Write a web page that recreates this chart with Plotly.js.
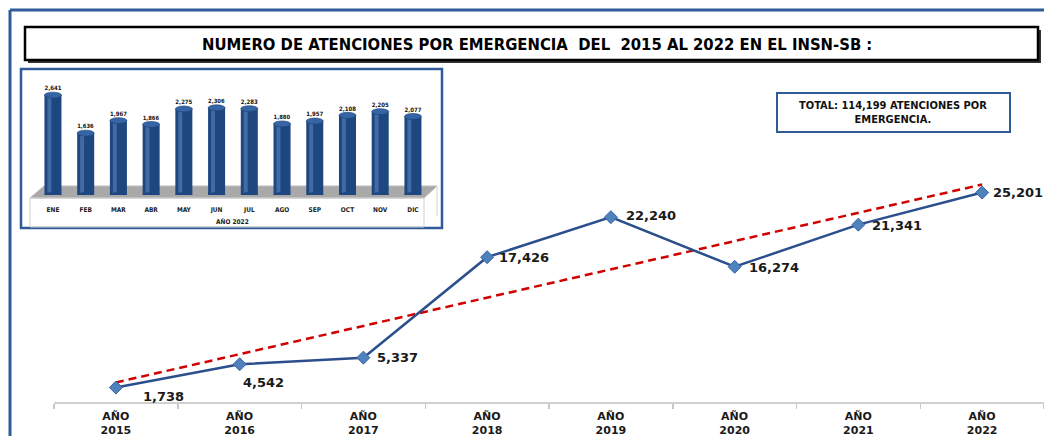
<!DOCTYPE html>
<html>
<head>
<meta charset="utf-8">
<script src="https://cdn.plot.ly/plotly-3.0.1.min.js"></script>
<style>
  html, body { margin: 0; padding: 0; background: #ffffff; }
  #chart { width: 1044px; height: 436px; }
</style>
</head>
<body>
<div id="chart"></div>
<script>
// ---------- DATA ----------
const years = ['2015', '2016', '2017', '2018', '2019', '2020', '2021', '2022'];
const attendances = [1738, 4542, 5337, 17426, 22240, 16274, 21341, 25201];
const yearTickLabels = ['AÑO<br>2015', 'AÑO<br>2016', 'AÑO<br>2017', 'AÑO<br>2018',
                        'AÑO<br>2019', 'AÑO<br>2020', 'AÑO<br>2021', 'AÑO<br>2022'];
const trendYears = ['2015', '2022'];
const trendValues = [2350, 26170];

const months = ['ENE', 'FEB', 'MAR', 'ABR', 'MAY', 'JUN', 'JUL', 'AGO', 'SEP', 'OCT', 'NOV', 'DIC'];
const monthly2022 = [2641, 1636, 1967, 1866, 2275, 2306, 2283, 1880, 1957, 2108, 2205, 2077];

const titleText = 'NUMERO DE ATENCIONES POR EMERGENCIA  DEL  2015 AL 2022 EN EL INSN-SB :';
const totalText = 'TOTAL: 114,199 ATENCIONES POR<br>EMERGENCIA.';
const insetAxisTitle = 'AÑO 2022';

// ---------- HELPERS (pixel -> paper) ----------
const W = 1044, H = 436;
const px = x => x / W;
const py = y => 1 - y / H;

const monthIdx = months.map((m, i) => i);
const fmt = v => v.toLocaleString('en-US');

const narrow = '"DejaVu Sans Condensed", "Liberation Sans Narrow", "Liberation Sans", sans-serif';
const dejavu = '"DejaVu Sans", Verdana, sans-serif';

// ---------- TRACES ----------
const trend = {
  x: trendYears, y: trendValues, xaxis: 'x', yaxis: 'y',
  type: 'scatter', mode: 'lines',
  line: { color: '#d10000', width: 2.5, dash: '8px,5px' },
  hoverinfo: 'skip'
};

const mainLine = {
  x: years, y: attendances, xaxis: 'x', yaxis: 'y',
  type: 'scatter', mode: 'lines+markers',
  line: { color: '#2b4f8c', width: 2.5 },
  marker: { symbol: 'diamond', size: 10, color: '#4f81bd', line: { color: '#3a64a0', width: 1 } },
  cliponaxis: false
};

const insetBars = {
  x: monthIdx, y: monthly2022, xaxis: 'x2', yaxis: 'y2',
  type: 'bar', width: 0.52,
  marker: { color: '#1f477f', line: { width: 0 } },
  text: monthly2022.map(fmt), textposition: 'outside',
  textfont: { family: narrow, size: 7, color: '#111111', weight: 'bold' },
  cliponaxis: false
};

const insetHighlight = {
  x: monthIdx, y: monthly2022, xaxis: 'x2', yaxis: 'y2',
  type: 'bar', width: 0.12, offset: -0.17,
  marker: { color: 'rgba(95,135,195,0.55)', line: { width: 0 } },
  hoverinfo: 'skip'
};

// ---------- SHAPES ----------
const shapes = [
  // outer frame
  { type: 'line', xref: 'paper', yref: 'paper', x0: px(10), x1: px(10), y0: py(10), y1: py(436),
    line: { color: '#2f5c99', width: 3 } },
  { type: 'line', xref: 'paper', yref: 'paper', x0: px(10), x1: px(1044), y0: py(10), y1: py(10),
    line: { color: '#2f5c99', width: 3 } },
  // title box shadow + box
  { type: 'rect', xref: 'paper', yref: 'paper', x0: px(28), x1: px(1041), y0: py(30), y1: py(63),
    fillcolor: '#333333', line: { width: 0 } },
  { type: 'rect', xref: 'paper', yref: 'paper', x0: px(25), x1: px(1038), y0: py(27), y1: py(60),
    fillcolor: '#ffffff', line: { color: '#000000', width: 2.5 } },
  // inset box
  { type: 'rect', xref: 'paper', yref: 'paper', layer: 'below', x0: px(21), x1: px(442), y0: py(69), y1: py(228),
    fillcolor: '#ffffff', line: { color: '#2f5c99', width: 2.5 } },
  // inset floor
  { type: 'path', xref: 'paper', yref: 'paper', layer: 'below',
    path: `M ${px(30)},${py(198)} L ${px(44)},${py(186)} L ${px(437)},${py(186)} L ${px(424)},${py(198)} Z`,
    fillcolor: '#a9a9a9', line: { color: '#bdbdbd', width: 1 } },
  // inset category label box
  { type: 'rect', xref: 'paper', yref: 'paper', layer: 'below', x0: px(30), x1: px(424), y0: py(198), y1: py(227),
    fillcolor: 'rgba(0,0,0,0)', line: { color: '#cfcfcf', width: 1 } },
  { type: 'line', xref: 'paper', yref: 'paper', layer: 'below', x0: px(437), x1: px(437), y0: py(186), y1: py(216),
    line: { color: '#d4d4d4', width: 1 } },
  // total box
  { type: 'rect', xref: 'paper', yref: 'paper', x0: px(777), x1: px(1010), y0: py(93), y1: py(132),
    fillcolor: '#ffffff', line: { color: '#2f5c99', width: 2 } }
];

// cylinder tops for the inset bars
monthIdx.forEach((i) => {
  shapes.push({
    type: 'circle', xref: 'x2', yref: 'y2', ysizemode: 'pixel', yanchor: monthly2022[i],
    x0: i - 0.26, x1: i + 0.26, y0: -3, y1: 3,
    fillcolor: '#3565a6', line: { color: '#1c3f70', width: 0.6 }
  });
  shapes.push({
    type: 'circle', xref: 'x2', yref: 'y2', ysizemode: 'pixel', yanchor: 0,
    x0: i - 0.26, x1: i + 0.26, y0: -3, y1: 3,
    fillcolor: '#1f477f', line: { width: 0 }
  });
});

// ---------- ANNOTATIONS ----------
const labelShift = [
  { dx: 25, dy: -9 }, { dx: 1, dy: -18 }, { dx: 12, dy: 0 }, { dx: 10, dy: 0 },
  { dx: 13, dy: 2 }, { dx: 12, dy: -1 }, { dx: 12, dy: -1 }, { dx: 9, dy: 0 }
];

const annotations = [
  { xref: 'paper', yref: 'paper', x: px(537), y: py(44), xanchor: 'center', yanchor: 'middle',
    text: titleText, showarrow: false,
    font: { family: narrow, size: 16.5, color: '#000000', weight: 'bold' } },
  { xref: 'paper', yref: 'paper', x: px(893), y: py(112.5), xanchor: 'center', yanchor: 'middle',
    text: totalText, showarrow: false,
    font: { family: narrow, size: 11, color: '#111111', weight: 'bold' } },
  { xref: 'paper', yref: 'paper', x: px(232), y: py(222), xanchor: 'center', yanchor: 'middle',
    text: insetAxisTitle, showarrow: false,
    font: { family: narrow, size: 6.5, color: '#222222', weight: 'bold' } }
];

// data labels, positioned by category index on the main axis
years.forEach((yr, i) => {
  annotations.push({
    xref: 'x', yref: 'y', x: i, y: attendances[i],
    xanchor: 'left', yanchor: 'middle',
    xshift: labelShift[i].dx, yshift: labelShift[i].dy,
    text: fmt(attendances[i]), showarrow: false,
    font: { family: dejavu, size: 13, color: '#1a1a1a', weight: 'bold' }
  });
});

// ---------- LAYOUT ----------
const layout = {
  width: W, height: H,
  margin: { l: 0, r: 0, t: 0, b: 0, pad: 0 },
  paper_bgcolor: '#ffffff', plot_bgcolor: 'rgba(0,0,0,0)',
  showlegend: false,
  barmode: 'overlay',
  xaxis: {
    type: 'category', domain: [px(54), 1], range: [-0.5, 7.5], anchor: 'y',
    categoryorder: 'array', categoryarray: years,
    tickvals: years, ticktext: yearTickLabels,
    tickson: 'boundaries', ticks: 'outside', ticklen: 5, tickcolor: '#c8c8c8', tickwidth: 1.5,
    ticklabelstandoff: 3,
    showline: true, linecolor: '#d0d0d0', linewidth: 1.5,
    showgrid: false, zeroline: false, automargin: false,
    tickfont: { family: dejavu, size: 11, color: '#1a1a1a', weight: 'bold' }
  },
  yaxis: {
    domain: [py(402), py(70)], range: [0, 39950], anchor: 'x',
    visible: false, showgrid: false, zeroline: false, automargin: false
  },
  xaxis2: {
    domain: [px(36.6), px(429.3)], range: [-0.5, 11.5], anchor: 'y2',
    tickvals: monthIdx, ticktext: months, ticks: '', ticklabelstandoff: 9,
    showline: false, showgrid: false, zeroline: false, automargin: false,
    tickfont: { family: narrow, size: 6.5, color: '#222222', weight: 'bold' }
  },
  yaxis2: {
    domain: [py(195), py(80)], range: [0, 3042], anchor: 'x2',
    visible: false, showgrid: false, zeroline: false, automargin: false
  },
  shapes: shapes,
  annotations: annotations
};

Plotly.newPlot('chart', [insetBars, insetHighlight, trend, mainLine], layout,
  { displayModeBar: false, staticPlot: true });
</script>
</body>
</html>
